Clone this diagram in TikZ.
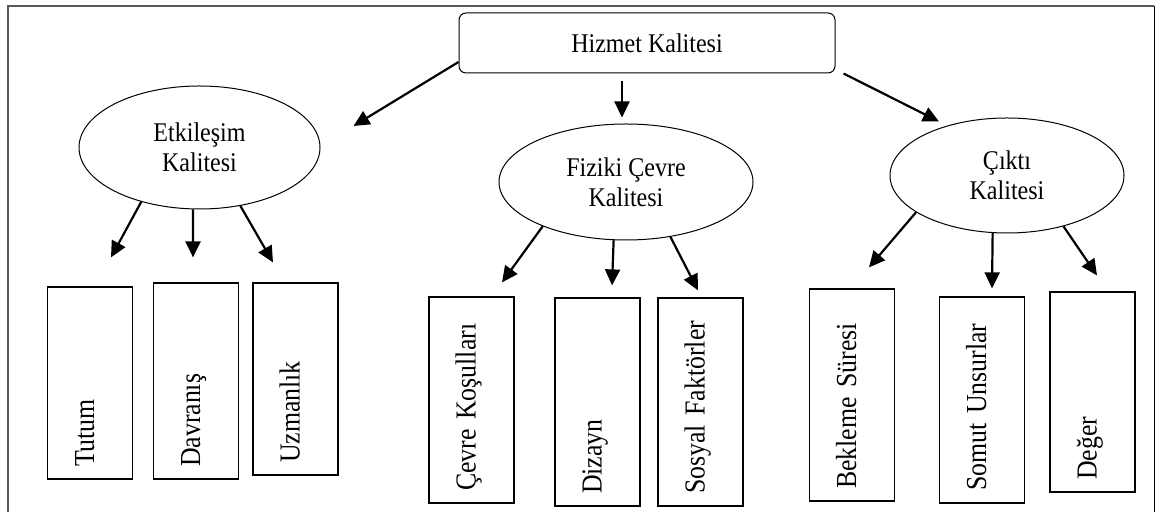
\documentclass[tikz,border=0pt]{standalone}
\usepackage{fontspec}
\setmainfont{Liberation Serif}
\newfontfamily\narrowserif[FakeStretch=0.89]{Liberation Serif}
\usetikzlibrary{arrows.meta, shapes.geometric}

\begin{document}
\begin{tikzpicture}[
  x=0.5pt, y=-0.5pt,
  font=\narrowserif\fontsize{13.5}{15}\selectfont,
  rootbox/.style={draw, line width=0.5pt, rounded corners=3.5pt,
                  minimum width=188pt, minimum height=30pt},
  facet/.style={ellipse, draw, line width=0.5pt, align=center, inner sep=0pt},
  leaf/.style={draw, line width=0.6pt, rotate=90, align=left, inner xsep=6pt, inner ysep=0pt,
               minimum height=42.5pt, font=\narrowserif\fontsize{14.5}{17}\selectfont,
               text height=9pt, text depth=5pt},
  arr/.style={-{Triangle[length=8pt, width=7.5pt]}, line width=1.1pt}
]
  \useasboundingbox (0,0) rectangle (1157,512);
  \draw[gray!70!black, line width=1pt] (8,512) |- (1154,6);
  \draw[line width=0.5pt] (1154,6) -- (1154,512);

  \node[rootbox] (hizmet) at (647,43) {Hizmet Kalitesi};

  \node[facet, minimum width=120.5pt, minimum height=61.5pt] (etk) at (199.5,147.5) {Etkileşim\\Kalitesi};
  \node[facet, minimum width=127pt, minimum height=58pt] (fiz) at (626,182) {Fiziki Çevre\\Kalitesi};
  \node[facet, minimum width=117pt, minimum height=57.5pt] (cikti) at (1007,175.5) {Çıktı\\Kalitesi};

  % alt boyutlar
  \node[leaf, minimum width=96pt, text width=84pt] (tutum) at (90,383) {Tutum};
  \node[leaf, minimum width=98pt, text width=86pt] (davranis) at (196,381) {Davranış};
  \node[leaf, minimum width=96pt, text width=84pt] (uzman) at (295.5,379) {Uzmanlık};
  \node[leaf, minimum width=103pt, text width=91pt] (kosul) at (471.5,400) {Çevre Koşulları};
  \node[leaf, minimum width=104pt, text width=92pt] (dizayn) at (597.5,402) {Dizayn};
  \node[leaf, minimum width=104pt, text width=92pt] (sosyal) at (700.5,402) {Sosyal Faktörler};
  \node[leaf, minimum width=106pt, text width=94pt] (bekleme) at (852,395) {Bekleme Süresi};
  \node[leaf, minimum width=103pt, text width=91pt] (somut) at (982,400) {Somut Unsurlar};
  \node[leaf, minimum width=100pt, text width=88pt] (deger) at (1092.5,392) {Değer};

  \draw[arr] ([yshift=-9.5pt]hizmet.west) -- ([shift={(33,-21.5)}]etk.east);
  \draw[arr] ([xshift=-12.5pt, yshift=-4pt]hizmet.south) -- ([shift={(-4,-6)}]fiz.north);
  \draw[arr] ([xshift=4pt]hizmet.south east) -- ([shift={(-68,4)}]cikti.north);

  \draw[arr] (etk.-137) -- ([shift={(21,-29)}]tutum.east);
  \draw[arr] (etk.-96) -- ([shift={(-3,-25)}]davranis.east);
  \draw[arr] (etk.-55) -- ([shift={(-22.5,-20)}]uzman.east);

  \draw[arr] (fiz.-152) -- ([shift={(30.5,-14)}]kosul.east);
  \draw[arr] (fiz.-102) -- ([shift={(14.5,-12)}]dizayn.east);
  \draw[arr] (fiz.-51) -- ([shift={(-2.5,-7)}]sosyal.east);

  \draw[arr] (cikti.-158) -- ([shift={(17,-21)}]bekleme.east);
  \draw[arr] (cikti.-104) -- ([shift={(10,-8)}]somut.east);
  \draw[arr] (cikti.-42) -- ([shift={(4.5,-16)}]deger.east);
\end{tikzpicture}
\end{document}
